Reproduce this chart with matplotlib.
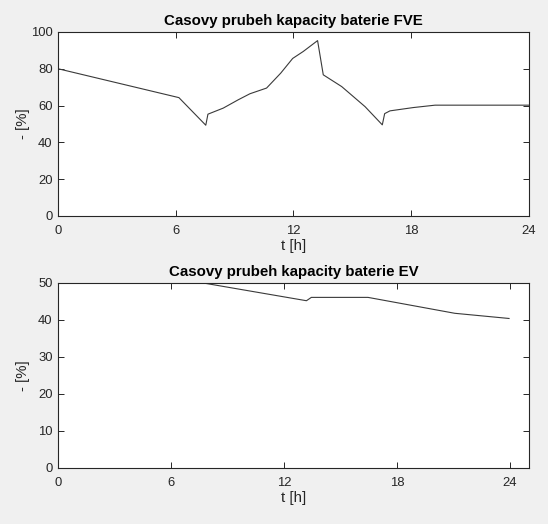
import matplotlib
matplotlib.use("Agg")
import matplotlib.pyplot as plt

# FVE battery capacity
t_fve = [0, 6.16, 7.53, 7.64, 8.42, 9.18, 9.78, 10.63, 11.35, 11.96, 12.5, 13.23,
         13.52, 14.46, 15.65, 16.53, 16.65, 16.92, 18.11, 19.22, 24.0]
c_fve = [80, 64.3, 49.3, 55.3, 58.6, 63.1, 66.4, 69.5, 77.6, 85.6, 89.4, 95.3,
         76.7, 70.3, 59.4, 49.5, 55.6, 57.1, 58.9, 60.2, 60.2]

# EV battery capacity
t_ev = [0, 7.7, 13.19, 13.45, 16.46, 21.07, 23.95]
c_ev = [50, 50, 45.2, 46.1, 46.1, 41.8, 40.4]

titles = ["Casovy prubeh kapacity baterie FVE", "Casovy prubeh kapacity baterie EV"]
xticks = [0, 6, 12, 18, 24]
yticks_fve = [0, 20, 40, 60, 80, 100]
yticks_ev = [0, 10, 20, 30, 40, 50]

plt.rcParams['font.family'] = ['Liberation Sans', 'DejaVu Sans']

fig = plt.figure(figsize=(5.48, 5.24), dpi=100, facecolor='#f0f0f0')
ax1 = fig.add_axes([0.106, 0.588, 0.859, 0.351])
ax2 = fig.add_axes([0.106, 0.107, 0.859, 0.353])

tc = '#262626'
for ax, t, c, title, xl, yl, yt in [
        (ax1, t_fve, c_fve, titles[0], 24, 100, yticks_fve),
        (ax2, t_ev, c_ev, titles[1], 25, 50, yticks_ev)]:
    ax.plot(t, c, color='#3a3a3a', lw=0.8)
    ax.set_xlim(0, xl)
    ax.set_ylim(0, yl)
    ax.set_xticks(xticks)
    ax.set_yticks(yt)
    ax.tick_params(direction='in', top=True, right=True, length=4, width=0.7,
                   labelsize=9.4, colors=tc)
    ax.tick_params(axis='x', pad=6.5)
    ax.tick_params(axis='y', pad=4)
    for s in ax.spines.values():
        s.set_linewidth(0.8)
        s.set_color('#262626')
    ax.set_title(title, fontsize=10.8, fontweight='bold', color='#000000', pad=5)
    ax.set_xlabel('t [h]', fontsize=10.8, color=tc, labelpad=1.5)
    ax.set_ylabel('- [%]', fontsize=10.8, color=tc)
    ax.yaxis.set_label_coords(-0.060, 0.5)

fig.savefig('out.png', dpi=100, facecolor=fig.get_facecolor())
